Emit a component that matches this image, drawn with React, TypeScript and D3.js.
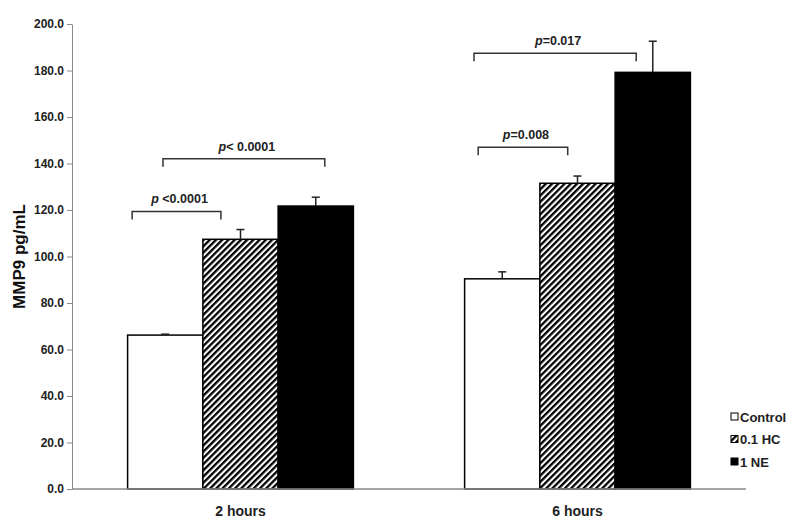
import React, { useEffect, useRef } from 'react';
import * as d3 from 'd3';

// data
const groups = ['2 hours', '6 hours'];
const series = ['Control', '0.1 HC', '1 NE'];
const means = [
  [66.2, 107.4, 121.7],
  [90.4, 131.5, 179.2],
];
const errs = [
  [0.4, 4.2, 3.8],
  [3.0, 3.1, 13.4],
];
const yTicks = [0, 20, 40, 60, 80, 100, 120, 140, 160, 180, 200];

// significance brackets: group, start / end (in bar widths from group start), label parts, bracket level
const bracketGroup = [0, 0, 1, 1];
const bracketFrom = [0.06, 0.47, 0.18, 0.125];
const bracketTo = [1.24, 2.62, 1.37, 2.28];
const bracketPre = ['p', 'p', 'p', 'p'];
const bracketText = [' <0.0001', '< 0.0001', '=0.008', '=0.017'];
const bracketLevel = [119.4, 142.0, 147.0, 187.4];

const W = 800;
const H = 523;
const FONT = '"Liberation Sans", Arial, sans-serif';

const App = () => {
  const ref = useRef<SVGSVGElement>(null);

  useEffect(() => {
    if (!ref.current) return;
    const svg = d3.select(ref.current);
    svg.selectAll('*').remove();

    const left = 72, right = 746, top = 24, bottom = 489;

    const y = d3.scaleLinear().domain([0, 200]).range([bottom, top]);
    const x0 = d3.scaleBand().domain(groups).range([left, right])
      .paddingInner(0.33).paddingOuter(0.165);
    const x1 = d3.scaleBand().domain(series).range([0, x0.bandwidth()]).padding(0);

    // hatch pattern
    const defs = svg.append('defs');
    const pat = defs.append('pattern')
      .attr('id', 'hatch')
      .attr('patternUnits', 'userSpaceOnUse')
      .attr('width', 4.4).attr('height', 4.4)
      .attr('patternTransform', 'rotate(45)');
    pat.append('rect').attr('width', 4.4).attr('height', 4.4).attr('fill', '#fff');
    pat.append('rect').attr('width', 2.3).attr('height', 4.4).attr('fill', '#000');

    const fills = ['#fff', 'url(#hatch)', '#000'];

    // y axis
    const ya = svg.append('g').attr('transform', `translate(${left},0)`)
      .call(d3.axisLeft(y).tickValues(yTicks).tickFormat(d3.format('.1f')).tickSize(5).tickSizeOuter(0));
    ya.select('.domain').attr('stroke', '#8a8a8a');
    ya.selectAll('.tick line').attr('stroke', '#8a8a8a');
    ya.selectAll('.tick text')
      .attr('font-family', FONT).attr('font-weight', 'bold').attr('font-size', 12)
      .attr('fill', '#222').attr('x', -8);

    svg.append('text')
      .attr('transform', `translate(25,${(top + bottom) / 2}) rotate(-90)`)
      .attr('text-anchor', 'middle')
      .attr('font-family', FONT).attr('font-weight', 'bold').attr('font-size', 17)
      .attr('fill', '#111')
      .text('MMP9 pg/mL');

    // bars
    groups.forEach((g, gi) => {
      const gx = x0(g)!;
      series.forEach((s, si) => {
        const bx = gx + x1(s)!;
        const v = means[gi][si];
        svg.append('rect')
          .attr('x', bx).attr('y', y(v))
          .attr('width', x1.bandwidth()).attr('height', y(0) - y(v))
          .attr('fill', fills[si])
          .attr('stroke', '#000').attr('stroke-width', 1.5);
        // error bar (plus only)
        const cx = bx + x1.bandwidth() / 2;
        const e = v + errs[gi][si];
        svg.append('line')
          .attr('x1', cx).attr('x2', cx).attr('y1', y(v)).attr('y2', y(e))
          .attr('stroke', '#222').attr('stroke-width', 1.5);
        svg.append('line')
          .attr('x1', cx - 4).attr('x2', cx + 4).attr('y1', y(e)).attr('y2', y(e))
          .attr('stroke', '#222').attr('stroke-width', 1.5);
      });
      svg.append('text')
        .attr('x', gx + x0.bandwidth() / 2).attr('y', 516)
        .attr('text-anchor', 'middle')
        .attr('font-family', FONT).attr('font-weight', 'bold').attr('font-size', 14)
        .attr('fill', '#222')
        .text(g);
    });

    // x axis
    svg.append('line')
      .attr('x1', left).attr('x2', right).attr('y1', bottom).attr('y2', bottom)
      .attr('stroke', '#8a8a8a').attr('stroke-width', 1.5);

    // brackets
    bracketGroup.forEach((gi, i) => {
      const gx = x0(groups[gi])!;
      const bw = x1.bandwidth();
      const xa = gx + bracketFrom[i] * bw;
      const xb = gx + bracketTo[i] * bw;
      const yy = y(bracketLevel[i]);
      svg.append('path')
        .attr('d', `M${xa},${yy + 8}V${yy}H${xb}V${yy + 8}`)
        .attr('fill', 'none').attr('stroke', '#333').attr('stroke-width', 1.5);
      const t = svg.append('text')
        .attr('x', (xa + xb) / 2 + 3).attr('y', yy - 8)
        .attr('text-anchor', 'middle')
        .attr('font-family', FONT).attr('font-weight', 'bold').attr('font-size', 12.5)
        .attr('fill', '#222');
      t.append('tspan').attr('font-style', 'italic').text(bracketPre[i]);
      t.append('tspan').text(bracketText[i]);
    });

    // legend
    const lg = svg.append('g').attr('transform', 'translate(731,417)');
    series.forEach((s, i) => {
      const row = lg.append('g').attr('transform', `translate(0,${i * 22.5})`);
      row.append('rect')
        .attr('x', 0).attr('y', -4).attr('width', 7).attr('height', 7)
        .attr('fill', fills[i]).attr('stroke', '#000').attr('stroke-width', 1);
      row.append('text')
        .attr('x', 9).attr('y', 4.5)
        .attr('font-family', FONT).attr('font-weight', 'bold').attr('font-size', 13)
        .attr('fill', '#222')
        .text(s);
    });
  }, []);

  return (
    <svg ref={ref} width={W} height={H}
      style={{ position: 'absolute', left: 0, top: 0, background: '#fff' }} />
  );
};

export default App;
